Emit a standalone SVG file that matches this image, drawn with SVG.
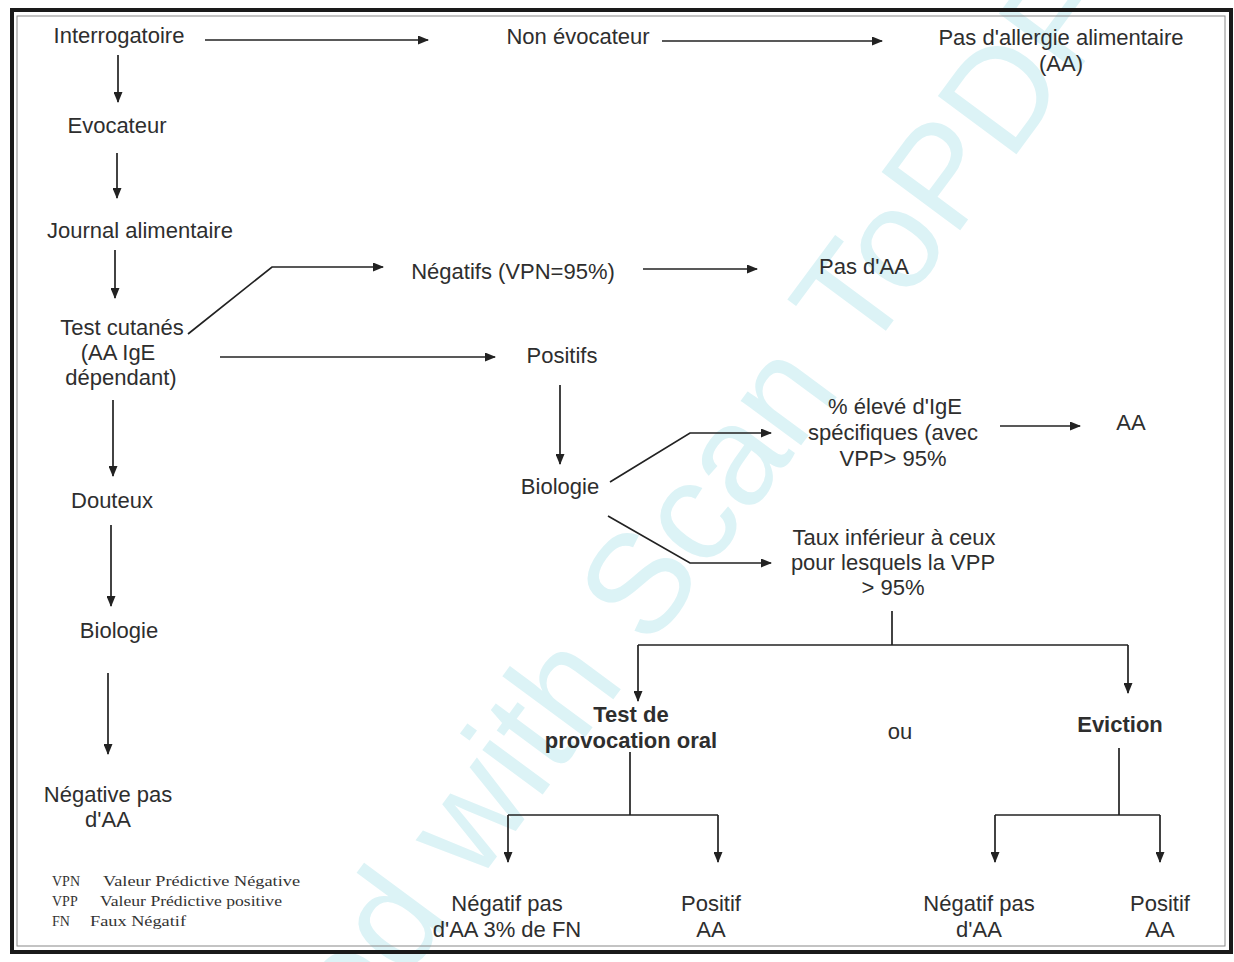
<svg xmlns="http://www.w3.org/2000/svg" width="1234" height="962" viewBox="0 0 1234 962">
<defs>
<marker id="ah" markerUnits="userSpaceOnUse" markerWidth="11" markerHeight="9" refX="10" refY="4.5" orient="auto">
<path d="M0,0 L11,4.5 L0,9 z" fill="#222"/>
</marker>
<style>
.t{font-family:"Liberation Sans",Arial,sans-serif;font-size:22px;fill:#2e2e2e;text-anchor:middle}
.b{font-weight:bold}
.lg{font-family:"Liberation Serif","Times New Roman",serif;font-size:14px;fill:#333}
.c{fill:none;stroke:#222;stroke-width:1.7}
.a{marker-end:url(#ah)}
.wm{font-family:"Liberation Sans",Arial,sans-serif;font-size:142px;fill:#dcf3f6}
</style>
</defs>
<rect width="1234" height="962" fill="#fff"/>
<g id="watermark">
<text class="wm" transform="translate(119,1367) rotate(-53.5)">Scanned with Scan ToPDF</text>
</g>
<g id="frame" fill="none" stroke="#1a1a1a">
<rect x="12" y="10" width="1219" height="942" stroke-width="4"/>
<rect x="17" y="16" width="1208" height="930" stroke-width="1" stroke="#888"/>
</g>
<g id="connectors">
<line class="c a" x1="205" y1="40" x2="428" y2="40"/>
<line class="c a" x1="662" y1="41" x2="882" y2="41"/>
<line class="c a" x1="118" y1="55" x2="118" y2="102"/>
<line class="c a" x1="117" y1="153" x2="117" y2="198"/>
<line class="c a" x1="115" y1="250" x2="115" y2="298"/>
<polyline class="c a" points="188,334 272,267 383,267"/>
<line class="c a" x1="643" y1="269" x2="757" y2="269"/>
<line class="c a" x1="220" y1="357" x2="495" y2="357"/>
<line class="c a" x1="560" y1="385" x2="560" y2="464"/>
<polyline class="c a" points="610,482 690,433 771,433"/>
<line class="c a" x1="1000" y1="426" x2="1080" y2="426"/>
<polyline class="c a" points="608,516 690,563 771,563"/>
<line class="c" x1="892" y1="611" x2="892" y2="645"/>
<line class="c" x1="638" y1="645" x2="1128" y2="645"/>
<line class="c a" x1="638" y1="645" x2="638" y2="701"/>
<line class="c a" x1="1128" y1="645" x2="1128" y2="693"/>
<line class="c a" x1="113" y1="400" x2="113" y2="476"/>
<line class="c a" x1="111" y1="525" x2="111" y2="606"/>
<line class="c a" x1="108" y1="673" x2="108" y2="754"/>
<line class="c" x1="630" y1="752" x2="630" y2="815"/>
<line class="c" x1="508" y1="815" x2="718" y2="815"/>
<line class="c a" x1="508" y1="815" x2="508" y2="862"/>
<line class="c a" x1="718" y1="815" x2="718" y2="862"/>
<line class="c" x1="1119" y1="748" x2="1119" y2="815"/>
<line class="c" x1="995" y1="815" x2="1160" y2="815"/>
<line class="c a" x1="995" y1="815" x2="995" y2="862"/>
<line class="c a" x1="1160" y1="815" x2="1160" y2="862"/>
</g>
<g id="n-interrogatoire"><text class="t" x="119" y="43">Interrogatoire</text></g>
<g id="n-non-evocateur"><text class="t" x="578" y="44">Non évocateur</text></g>
<g id="n-pas-allergie"><text class="t" x="1061" y="45">Pas d'allergie alimentaire</text><text class="t" x="1061" y="71">(AA)</text></g>
<g id="n-evocateur"><text class="t" x="117" y="133">Evocateur</text></g>
<g id="n-journal"><text class="t" x="140" y="238">Journal alimentaire</text></g>
<g id="n-test-cutanes"><text class="t" x="122" y="335">Test cutanés</text><text class="t" x="118" y="360">(AA IgE</text><text class="t" x="121" y="385">dépendant)</text></g>
<g id="n-negatifs"><text class="t" x="513" y="279">Négatifs (VPN=95%)</text></g>
<g id="n-pas-aa"><text class="t" x="864" y="274">Pas d'AA</text></g>
<g id="n-positifs"><text class="t" x="562" y="363">Positifs</text></g>
<g id="n-biologie-r"><text class="t" x="560" y="494">Biologie</text></g>
<g id="n-eleve"><text class="t" x="895" y="414">% élevé d'IgE</text><text class="t" x="893" y="440">spécifiques (avec</text><text class="t" x="893" y="466">VPP&gt; 95%</text></g>
<g id="n-aa"><text class="t" x="1131" y="430">AA</text></g>
<g id="n-taux"><text class="t" x="894" y="545">Taux inférieur à ceux</text><text class="t" x="893" y="570">pour lesquels la VPP</text><text class="t" x="893" y="595">&gt; 95%</text></g>
<g id="n-tpo"><text class="t b" x="631" y="722">Test de</text><text class="t b" x="631" y="748">provocation oral</text></g>
<g id="n-ou"><text class="t" x="900" y="739">ou</text></g>
<g id="n-eviction"><text class="t b" x="1120" y="732">Eviction</text></g>
<g id="n-douteux"><text class="t" x="112" y="508">Douteux</text></g>
<g id="n-biologie-l"><text class="t" x="119" y="638">Biologie</text></g>
<g id="n-negative-l"><text class="t" x="108" y="802">Négative pas</text><text class="t" x="108" y="827">d'AA</text></g>
<g id="n-neg-tpo"><text class="t" x="507" y="911">Négatif pas</text><text class="t" x="507" y="937">d'AA 3% de FN</text></g>
<g id="n-pos-tpo"><text class="t" x="711" y="911">Positif</text><text class="t" x="711" y="937">AA</text></g>
<g id="n-neg-ev"><text class="t" x="979" y="911">Négatif pas</text><text class="t" x="979" y="937">d'AA</text></g>
<g id="n-pos-ev"><text class="t" x="1160" y="911">Positif</text><text class="t" x="1160" y="937">AA</text></g>
<g id="legend">
<text class="lg" x="52" y="886">VPN</text><text class="lg" x="103" y="886" textLength="197" lengthAdjust="spacingAndGlyphs">Valeur Prédictive Négative</text>
<text class="lg" x="52" y="906">VPP</text><text class="lg" x="100" y="906" textLength="182" lengthAdjust="spacingAndGlyphs">Valeur Prédictive positive</text>
<text class="lg" x="52" y="926">FN</text><text class="lg" x="90" y="926" textLength="96" lengthAdjust="spacingAndGlyphs">Faux Négatif</text>
</g>
</svg>
